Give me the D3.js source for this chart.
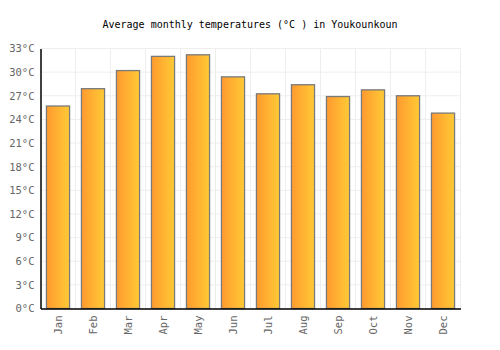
<!DOCTYPE html>
<html><head><meta charset="utf-8">
<script src="https://cdn.jsdelivr.net/npm/d3@7"></script>
<style>body{margin:0;background:#fff}</style>
</head><body>
<svg id="c" width="500" height="350"></svg>
<script>
const months = ["Jan","Feb","Mar","Apr","May","Jun","Jul","Aug","Sep","Oct","Nov","Dec"];
const temps = [25.7, 27.9, 30.2, 32.0, 32.2, 29.4, 27.25, 28.4, 26.9, 27.75, 27.0, 24.8];
const yTicks = [0,3,6,9,12,15,18,21,24,27,30,33];
const title = "Average monthly temperatures (°C ) in Youkounkoun";

const svg = d3.select("#c");
const m = {l:40.5, r:460.5, t:48.5, b:308.5};
const x = d3.scaleBand().domain(months).range([m.l, m.r]).paddingInner(0.34).paddingOuter(0.17);
const xb = d3.scaleBand().domain(months).range([m.l, m.r]);
const y = d3.scaleLinear().domain([0,33]).range([m.b, m.t]);
const font = "'DejaVu Sans Mono', monospace";

const defs = svg.append("defs");
const g = defs.append("linearGradient").attr("id","gr").attr("x1","0").attr("x2","1").attr("y1","0").attr("y2","0");
g.append("stop").attr("offset","0").attr("stop-color","#ff9a2f");
g.append("stop").attr("offset","1").attr("stop-color","#ffca35");

// grid
svg.append("g").selectAll("line.h").data(yTicks).join("line")
  .attr("x1", m.l).attr("x2", m.r).attr("y1", d=>y(d)).attr("y2", d=>y(d))
  .attr("stroke","#eeeeee").attr("stroke-width",1);
svg.append("g").selectAll("line.v").data(months.slice(1).concat(["end"])).join("line")
  .attr("x1", d=> d==="end" ? m.r : xb(d)).attr("x2", d=> d==="end" ? m.r : xb(d))
  .attr("y1", m.t).attr("y2", m.b)
  .attr("stroke","#eeeeee").attr("stroke-width",1);

// bars
svg.append("g").selectAll("rect").data(months).join("rect")
  .attr("x", d=>x(d)).attr("width", x.bandwidth())
  .attr("y", (d,i)=>y(temps[i])).attr("height", (d,i)=>y(0)-y(temps[i]))
  .attr("fill","url(#gr)").attr("stroke","#7a7a7a").attr("stroke-width",1.3);

// axes
const ya = svg.append("g").attr("transform",`translate(${m.l},0)`)
  .call(d3.axisLeft(y).tickValues(yTicks).tickSize(0).tickPadding(6).tickFormat(d=>d+"°C"));
ya.select(".domain").attr("stroke","#000").attr("stroke-width",1.5);
ya.selectAll("text").attr("font-family",font).attr("font-size","10.5px").attr("fill","#666");

const xa = svg.append("g").attr("transform",`translate(0,${m.b})`)
  .call(d3.axisBottom(xb).tickSize(0).tickPadding(6));
xa.select(".domain").attr("stroke","#000").attr("stroke-width",1.5);
xa.selectAll(".tick text").attr("font-family",font).attr("font-size","10.5px").attr("fill","#666")
  .attr("transform", "rotate(-90)").attr("text-anchor","end").attr("x",-7).attr("y",0).attr("dy","0.35em");

svg.append("text").attr("x",250).attr("y",28).attr("text-anchor","middle")
  .attr("font-family",font).attr("font-size","10px").attr("fill","#000").text(title);
</script>
</body></html>
